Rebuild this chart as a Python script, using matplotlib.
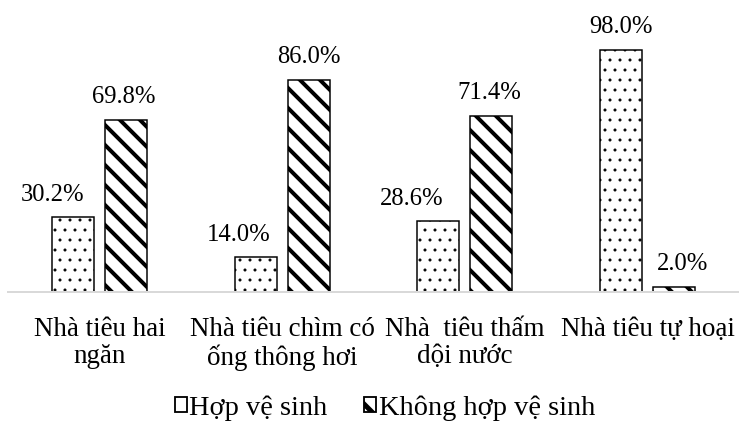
import matplotlib
matplotlib.use("Agg")
import matplotlib.pyplot as plt
import matplotlib.patches as mpatches
import numpy as np

DPI = 120
plt.rcParams.update({
    "font.family": ["Liberation Serif", "DejaVu Serif"],
    "font.size": 15,
})

categories = ["Nhà tiêu hai\nngăn", "Nhà tiêu chìm có\nống thông hơi",
              "Nhà  tiêu thấm\ndội nước", "Nhà tiêu tự hoại"]
hop_ve_sinh = [30.2, 14.0, 28.6, 98.0]
khong_hop_ve_sinh = [69.8, 86.0, 71.4, 2.0]
series_names = ["Hợp vệ sinh", "Không hợp vệ sinh"]

# horizontal nudges (points) for the value labels, so they don't crowd the bars
nudge_hop = [-12, -10, -16, 0]
nudge_khong = [-1, 0, -1.5, 5]

fig = plt.figure(figsize=(739 / DPI, 424 / DPI), dpi=DPI)
ax = fig.add_axes([8 / 739, 1 - 292 / 424, 731 / 739, 247 / 424])

x = np.arange(len(categories))
w = 0.23
off = 0.145

# dotted bars need a thin hatch stroke, striped bars a thick one
with plt.rc_context({"hatch.linewidth": 0.6}):
    b1 = ax.bar(x - off, hop_ve_sinh, w, color="white", edgecolor="black",
                linewidth=0.9, hatch="..", label=series_names[0])
with plt.rc_context({"hatch.linewidth": 2.4}):
    b2 = ax.bar(x + off, khong_hop_ve_sinh, w, color="white", edgecolor="black",
                linewidth=0.9, hatch="\\\\", label=series_names[1])
for p in b1:
    if hasattr(p, "set_hatch_linewidth"):
        p.set_hatch_linewidth(0.6)
for p in b2:
    if hasattr(p, "set_hatch_linewidth"):
        p.set_hatch_linewidth(2.4)

for bars, vals, nudge in ((b1, hop_ve_sinh, nudge_hop), (b2, khong_hop_ve_sinh, nudge_khong)):
    for bar, v, dx in zip(bars, vals, nudge):
        ax.annotate(f"{v:.1f}%", (bar.get_x() + bar.get_width() / 2, v),
                    xytext=(dx, 7), textcoords="offset points",
                    ha="center", va="bottom", fontsize=14.8)

ax.set_xlim(-0.5, 3.5)
ax.set_ylim(0, 100)
for s in ("top", "right", "left"):
    ax.spines[s].set_visible(False)
ax.spines["bottom"].set_color("#d9d9d9")
ax.spines["bottom"].set_linewidth(1.2)
ax.set_yticks([])
ax.set_xticks(x)
ax.set_xticklabels(categories, fontsize=16.2, linespacing=1.12)
ax.tick_params(axis="x", length=0, pad=15)

# small legend keys: plain box for the dotted series, one thick stripe for the other
with plt.rc_context({"hatch.linewidth": 3.0}):
    h1 = mpatches.Patch(facecolor="white", edgecolor="black", linewidth=1.1,
                        label=series_names[0])
    h2 = mpatches.Patch(facecolor="white", edgecolor="black", linewidth=1.1,
                        hatch="\\", label=series_names[1])
    if hasattr(h2, "set_hatch_linewidth"):
        h2.set_hatch_linewidth(3.0)
    fig.legend(handles=[h1, h2], loc="center", bbox_to_anchor=(0.521, 1 - 408 / 424),
               ncol=2, frameon=False, fontsize=17, handlelength=0.42,
               handleheight=0.42, handletextpad=0.08, columnspacing=1.3)

fig.savefig("out.png", dpi=DPI)
